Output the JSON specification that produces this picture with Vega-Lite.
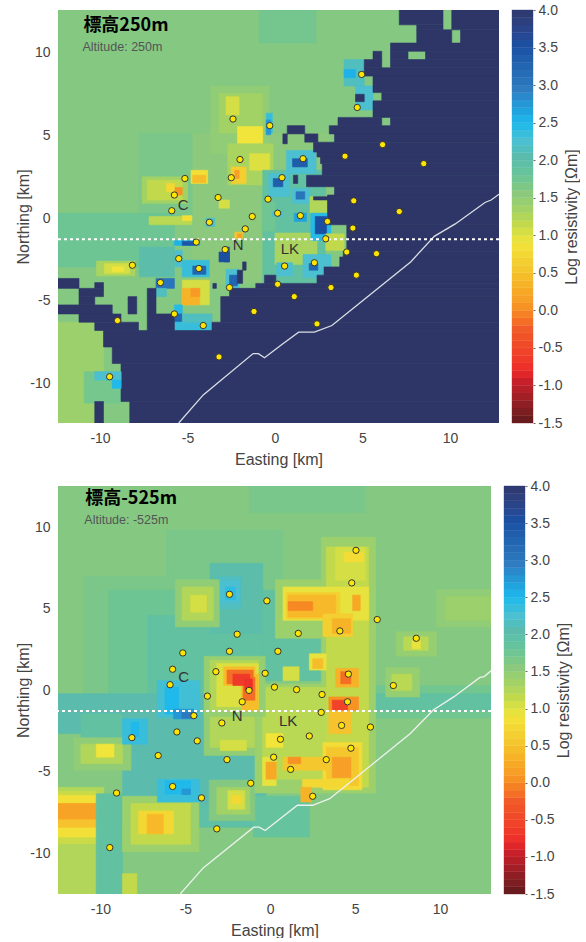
{"$schema":"https://vega.github.io/schema/vega-lite/v6.json","padding":{"left":15,"top":3,"right":0,"bottom":0},"background":"white","spacing":12,
"config":{"view":{"stroke":null},"font":"Liberation Sans","axis":{"grid":false,"domain":false,"ticks":false,"labelFontSize":14,"labelColor":"#444","titleFontSize":16,"titleFontWeight":"normal","titleColor":"#444","labelPadding":8,"labelExpr":"replace(datum.label,'−','-')"},"text":{"font":"Liberation Sans"}},
"datasets":{
"bar":[{"a":-1.5,"b":-1.4},{"a":-1.4,"b":-1.3},{"a":-1.3,"b":-1.2},{"a":-1.2,"b":-1.1},{"a":-1.1,"b":-1.0},{"a":-1.0,"b":-0.9},{"a":-0.9,"b":-0.8},{"a":-0.8,"b":-0.7},{"a":-0.7,"b":-0.6},{"a":-0.6,"b":-0.5},{"a":-0.5,"b":-0.4},{"a":-0.4,"b":-0.3},{"a":-0.3,"b":-0.2},{"a":-0.2,"b":-0.1},{"a":-0.1,"b":0.0},{"a":0.0,"b":0.1},{"a":0.1,"b":0.2},{"a":0.2,"b":0.3},{"a":0.3,"b":0.4},{"a":0.4,"b":0.5},{"a":0.5,"b":0.6},{"a":0.6,"b":0.7},{"a":0.7,"b":0.8},{"a":0.8,"b":0.9},{"a":0.9,"b":1.0},{"a":1.0,"b":1.1},{"a":1.1,"b":1.2},{"a":1.2,"b":1.3},{"a":1.3,"b":1.4},{"a":1.4,"b":1.5},{"a":1.5,"b":1.6},{"a":1.6,"b":1.7},{"a":1.7,"b":1.8},{"a":1.8,"b":1.9},{"a":1.9,"b":2.0},{"a":2.0,"b":2.1},{"a":2.1,"b":2.2},{"a":2.2,"b":2.3},{"a":2.3,"b":2.4},{"a":2.4,"b":2.5},{"a":2.5,"b":2.6},{"a":2.6,"b":2.7},{"a":2.7,"b":2.8},{"a":2.8,"b":2.9},{"a":2.9,"b":3.0},{"a":3.0,"b":3.1},{"a":3.1,"b":3.2},{"a":3.2,"b":3.3},{"a":3.3,"b":3.4},{"a":3.4,"b":3.5},{"a":3.5,"b":3.6},{"a":3.6,"b":3.7},{"a":3.7,"b":3.8},{"a":3.8,"b":3.9},{"a":3.9,"b":4.0}],
"t":[
{"x0":-12.4,"x1":12.8,"y0":-12.4,"y1":12.6,"v":1.55},
{"x0":-0.9,"x1":2.35,"y0":10.6,"y1":12.6,"v":1.66},
{"x0":-12.4,"x1":-9.8,"y0":-12.4,"y1":-6.3,"v":1.35},
{"x0":-10.9,"x1":-8.8,"y0":-11.2,"y1":-9.3,"v":1.65},
{"x0":-7.75,"x1":-4.3,"y0":-0.4,"y1":5.15,"v":1.62},
{"x0":-12.4,"x1":-5.75,"y0":-2.95,"y1":0.3,"v":1.72},
{"x0":-4.7,"x1":3.2,"y0":-3.95,"y1":5.15,"v":1.5},
{"x0":-3.7,"x1":-0.3,"y0":3.9,"y1":8.0,"v":1.45},
{"x0":-3.2,"x1":-0.7,"y0":5.15,"y1":7.55,"v":1.3},
{"x0":-2.8,"x1":-2.05,"y0":6.25,"y1":7.35,"v":1.0},
{"x0":-2.15,"x1":-0.7,"y0":4.5,"y1":5.55,"v":0.85},
{"x0":-2.7,"x1":-0.1,"y0":2.0,"y1":4.5,"v":1.25},
{"x0":-1.45,"x1":-0.3,"y0":2.9,"y1":3.9,"v":0.95},
{"x0":-2.5,"x1":-1.65,"y0":2.1,"y1":3.1,"v":0.6},
{"x0":-2.3,"x1":-2.05,"y0":2.4,"y1":2.9,"v":0.1},
{"x0":-0.5,"x1":-0.15,"y0":5.15,"y1":6.35,"v":2.3},
{"x0":-0.5,"x1":-0.25,"y0":5.05,"y1":5.95,"v":2.7},
{"x0":3.95,"x1":5.1,"y0":8.0,"y1":9.6,"v":2.1},
{"x0":3.95,"x1":4.6,"y0":8.5,"y1":9.0,"v":2.5},
{"x0":4.6,"x1":5.6,"y0":6.55,"y1":8.0,"v":2.2},
{"x0":4.6,"x1":5.1,"y0":7.05,"y1":7.5,"v":4},
{"x0":-7.6,"x1":-5.0,"y0":0.9,"y1":2.5,"v":1.3},
{"x0":-7.3,"x1":-5.3,"y0":1.1,"y1":2.3,"v":1.1},
{"x0":-4.8,"x1":-3.85,"y0":2.1,"y1":2.9,"v":0.8},
{"x0":-4.7,"x1":-3.95,"y0":2.15,"y1":2.6,"v":0.4},
{"x0":-5.75,"x1":-5.3,"y0":1.4,"y1":1.85,"v":0.0},
{"x0":-6.2,"x1":-5.75,"y0":1.6,"y1":2.1,"v":0.7},
{"x0":-7.2,"x1":-4.75,"y0":-0.4,"y1":0.1,"v":1.15},
{"x0":-5.3,"x1":-4.75,"y0":-0.15,"y1":0.15,"v":0.8},
{"x0":-3.2,"x1":-2.6,"y0":0.6,"y1":1.1,"v":1.0},
{"x0":-3.95,"x1":-3.45,"y0":-0.5,"y1":0.0,"v":2.2},
{"x0":-2.3,"x1":-1.85,"y0":-1.25,"y1":-0.85,"v":0.5},
{"x0":-2.15,"x1":-1.9,"y0":-1.2,"y1":-0.95,"v":0.1},
{"x0":-5.75,"x1":-4.3,"y0":-1.65,"y1":-1.35,"v":2.5},
{"x0":-5.3,"x1":-4.5,"y0":-1.65,"y1":-1.4,"v":3.4},
{"x0":-6.2,"x1":-5.3,"y0":-2.95,"y1":-1.95,"v":2.2},
{"x0":-7.75,"x1":-5.75,"y0":-3.55,"y1":-1.75,"v":1.95},
{"x0":-5.3,"x1":-3.75,"y0":-3.55,"y1":-2.55,"v":2.3},
{"x0":-4.7,"x1":-3.95,"y0":-3.4,"y1":-2.9,"v":3.2},
{"x0":-2.9,"x1":-2.6,"y0":-2.65,"y1":-1.75,"v":3.3},
{"x0":-3.2,"x1":-2.6,"y0":-2.65,"y1":-2.05,"v":3.5},
{"x0":-10.2,"x1":-8.0,"y0":-3.5,"y1":-2.6,"v":1.25},
{"x0":-9.75,"x1":-8.3,"y0":-3.35,"y1":-2.75,"v":1.0},
{"x0":-9.3,"x1":-8.65,"y0":-3.25,"y1":-2.95,"v":0.85},
{"x0":-6.8,"x1":-5.75,"y0":-4.25,"y1":-3.65,"v":3.0},
{"x0":-6.8,"x1":-6.2,"y0":-4.75,"y1":-4.25,"v":2.1},
{"x0":-5.3,"x1":-3.75,"y0":-5.25,"y1":-3.75,"v":1.0},
{"x0":-5.3,"x1":-4.3,"y0":-5.25,"y1":-4.25,"v":0.3},
{"x0":-4.8,"x1":-4.3,"y0":-4.75,"y1":-4.25,"v":0.05},
{"x0":-5.75,"x1":-3.6,"y0":-6.8,"y1":-6.3,"v":2.3},
{"x0":-5.75,"x1":-5.3,"y0":-6.3,"y1":-5.25,"v":2.4},
{"x0":-5.75,"x1":-5.3,"y0":-6.25,"y1":-5.8,"v":3.2},
{"x0":-5.3,"x1":-3.6,"y0":-6.3,"y1":-5.8,"v":2.1},
{"x0":-2.8,"x1":-2.05,"y0":-4.25,"y1":-3.1,"v":2.2},
{"x0":-2.6,"x1":-2.15,"y0":-4.1,"y1":-3.45,"v":3.2},
{"x0":-2.15,"x1":-1.85,"y0":-3.95,"y1":-3.15,"v":4},
{"x0":-1.85,"x1":-1.65,"y0":-3.15,"y1":-2.65,"v":4},
{"x0":-3.55,"x1":-3.35,"y0":-4.25,"y1":-3.95,"v":4},
{"x0":-0.7,"x1":2.9,"y0":-3.95,"y1":2.9,"v":1.85},
{"x0":-0.7,"x1":0.0,"y0":-0.8,"y1":1.0,"v":1.7},
{"x0":0.0,"x1":2.4,"y0":-2.8,"y1":-0.9,"v":1.25},
{"x0":1.6,"x1":3.2,"y0":-3.6,"y1":-2.2,"v":2.2},
{"x0":0.1,"x1":1.0,"y0":-3.5,"y1":-2.7,"v":2.2},
{"x0":0.65,"x1":2.35,"y0":2.7,"y1":4.1,"v":2.2},
{"x0":1.0,"x1":1.85,"y0":3.1,"y1":3.6,"v":3.3},
{"x0":-0.35,"x1":0.85,"y0":1.3,"y1":2.7,"v":2.2},
{"x0":-0.1,"x1":0.45,"y0":1.9,"y1":2.4,"v":3.3},
{"x0":1.05,"x1":1.3,"y0":2.1,"y1":2.6,"v":4},
{"x0":1.0,"x1":2.0,"y0":0.9,"y1":1.8,"v":2.2},
{"x0":1.2,"x1":1.7,"y0":1.15,"y1":1.6,"v":3.0},
{"x0":2.0,"x1":3.0,"y0":0.3,"y1":1.3,"v":1.2},
{"x0":1.1,"x1":1.8,"y0":-0.2,"y1":0.3,"v":2.6},
{"x0":-0.15,"x1":0.45,"y0":0.1,"y1":0.4,"v":2.2},
{"x0":2.05,"x1":3.2,"y0":-1.35,"y1":0.3,"v":2.4},
{"x0":2.3,"x1":2.95,"y0":-0.95,"y1":0.1,"v":3.5},
{"x0":2.9,"x1":3.95,"y0":-1.95,"y1":-0.95,"v":1.1},
{"x0":1.95,"x1":2.45,"y0":-3.15,"y1":-2.75,"v":3.2},
{"x0":7.1,"x1":9.6,"y0":11.7,"y1":12.7,"v":4},{"x0":10.1,"x1":12.8,"y0":11.4,"y1":12.7,"v":4},
{"x0":8.1,"x1":9.6,"y0":11.4,"y1":11.7,"v":4},
{"x0":8.1,"x1":10.1,"y0":10.6,"y1":11.4,"v":4},{"x0":10.6,"x1":12.8,"y0":10.6,"y1":11.4,"v":4},
{"x0":6.6,"x1":12.8,"y0":10.1,"y1":10.6,"v":4},
{"x0":5.6,"x1":6.1,"y0":9.6,"y1":10.1,"v":4},{"x0":6.6,"x1":7.6,"y0":9.6,"y1":10.1,"v":4},{"x0":8.6,"x1":12.8,"y0":9.6,"y1":10.1,"v":4},
{"x0":5.1,"x1":6.1,"y0":9.1,"y1":9.6,"v":4},{"x0":6.6,"x1":12.8,"y0":9.1,"y1":9.6,"v":4},
{"x0":5.1,"x1":12.8,"y0":8.6,"y1":9.1,"v":4},
{"x0":5.6,"x1":12.8,"y0":7.6,"y1":8.6,"v":4},
{"x0":6.1,"x1":12.8,"y0":7.1,"y1":7.6,"v":4},
{"x0":5.6,"x1":12.8,"y0":6.1,"y1":7.1,"v":4},
{"x0":3.6,"x1":6.1,"y0":5.6,"y1":6.1,"v":4},{"x0":6.6,"x1":12.8,"y0":5.6,"y1":6.1,"v":4},
{"x0":3.1,"x1":12.8,"y0":5.1,"y1":5.6,"v":4},{"x0":0.7,"x1":1.7,"y0":5.1,"y1":5.6,"v":4},
{"x0":3.4,"x1":12.8,"y0":4.6,"y1":5.1,"v":4},{"x0":0.45,"x1":0.7,"y0":4.5,"y1":5.1,"v":4},{"x0":1.7,"x1":2.45,"y0":4.6,"y1":5.1,"v":4},
{"x0":2.2,"x1":12.8,"y0":4.0,"y1":4.6,"v":4},
{"x0":2.4,"x1":12.8,"y0":3.7,"y1":4.0,"v":4},
{"x0":2.6,"x1":12.8,"y0":3.3,"y1":3.7,"v":4},
{"x0":2.7,"x1":12.8,"y0":2.6,"y1":3.3,"v":4},
{"x0":1.8,"x1":12.8,"y0":1.9,"y1":2.6,"v":4},
{"x0":3.4,"x1":12.8,"y0":1.4,"y1":1.9,"v":4},
{"x0":3.0,"x1":12.8,"y0":-0.4,"y1":1.4,"v":4},
{"x0":2.2,"x1":3.2,"y0":1.1,"y1":1.3,"v":4},
{"x0":4.1,"x1":12.8,"y0":-2.0,"y1":-0.4,"v":4},
{"x0":3.9,"x1":12.8,"y0":-2.35,"y1":-2.0,"v":4},
{"x0":3.7,"x1":12.8,"y0":-2.95,"y1":-2.35,"v":4},
{"x0":2.8,"x1":12.8,"y0":-3.45,"y1":-2.95,"v":4},
{"x0":2.4,"x1":12.8,"y0":-3.95,"y1":-3.45,"v":4},
{"x0":-0.6,"x1":0.05,"y0":-3.95,"y1":-3.45,"v":4},
{"x0":-1.1,"x1":12.8,"y0":-4.25,"y1":-3.95,"v":4},
{"x0":-2.6,"x1":12.8,"y0":-4.75,"y1":-4.25,"v":4},
{"x0":-3.1,"x1":12.8,"y0":-6.3,"y1":-4.75,"v":4},
{"x0":-3.6,"x1":12.8,"y0":-6.8,"y1":-6.3,"v":4},
{"x0":-9.8,"x1":12.8,"y0":-7.8,"y1":-6.8,"v":4},
{"x0":-9.3,"x1":12.8,"y0":-8.8,"y1":-7.8,"v":4},
{"x0":-8.8,"x1":12.8,"y0":-11.1,"y1":-8.8,"v":4},
{"x0":-8.3,"x1":12.8,"y0":-12.4,"y1":-11.1,"v":4},
{"x0":-10.3,"x1":-9.8,"y0":-12.4,"y1":-11.1,"v":4},
{"x0":-12.4,"x1":-11.2,"y0":-4.25,"y1":-3.65,"v":4},
{"x0":-10.3,"x1":-9.8,"y0":-4.25,"y1":-3.9,"v":4},
{"x0":-11.2,"x1":-9.8,"y0":-4.75,"y1":-4.25,"v":4},
{"x0":-11.2,"x1":-10.3,"y0":-5.25,"y1":-4.75,"v":4},
{"x0":-12.4,"x1":-9.3,"y0":-5.8,"y1":-5.25,"v":4},
{"x0":-11.2,"x1":-8.8,"y0":-6.3,"y1":-5.8,"v":4},
{"x0":-10.3,"x1":-7.8,"y0":-6.8,"y1":-6.3,"v":4},
{"x0":-8.4,"x1":-7.9,"y0":-5.8,"y1":-4.75,"v":4},
{"x0":-7.3,"x1":-6.8,"y0":-5.8,"y1":-4.25,"v":4},
{"x0":-7.3,"x1":-5.75,"y0":-6.8,"y1":-5.8,"v":4},
{"x0":-10.3,"x1":-8.8,"y0":-10.3,"y1":-9.3,"v":1.65},
{"x0":-10.3,"x1":-8.8,"y0":-9.8,"y1":-9.3,"v":2.2},
{"x0":-9.3,"x1":-8.8,"y0":-10.3,"y1":-9.8,"v":2.45}
],
"b":[
{"x0":-12.5,"x1":13,"y0":-12.5,"y1":12.55,"v":1.55},
{"x0":-1.2,"x1":5.6,"y0":10.9,"y1":12.55,"v":1.63},
{"x0":9.8,"x1":13,"y0":3.9,"y1":6.2,"v":1.45},
{"x0":10.3,"x1":13,"y0":4.3,"y1":5.75,"v":1.35},
{"x0":-6.1,"x1":0.75,"y0":6.15,"y1":9.85,"v":1.62},
{"x0":-11,"x1":0.0,"y0":-0.4,"y1":7,"v":1.62},
{"x0":-9.5,"x1":-0.45,"y0":-0.2,"y1":6.15,"v":1.72},
{"x0":-7.2,"x1":-0.45,"y0":-0.2,"y1":4.6,"v":1.85},
{"x0":-3.55,"x1":-0.45,"y0":3.5,"y1":7.8,"v":1.95},
{"x0":-3.1,"x1":-1.7,"y0":5.0,"y1":7.0,"v":2.1},
{"x0":-2.95,"x1":-1.8,"y0":5.35,"y1":6.75,"v":2.2},
{"x0":-2.65,"x1":-2.05,"y0":5.55,"y1":6.35,"v":2.35},
{"x0":-0.45,"x1":3.3,"y0":0.6,"y1":6.15,"v":1.85},
{"x0":-12.5,"x1":-3.55,"y0":-2.65,"y1":-0.2,"v":2.0},
{"x0":5.8,"x1":13,"y0":-1.7,"y1":0.3,"v":1.68},
{"x0":5.8,"x1":13,"y0":-1.25,"y1":-0.2,"v":1.85},
{"x0":-11.15,"x1":-8.7,"y0":-3.1,"y1":-1.45,"v":1.85},
{"x0":-8.7,"x1":-0.25,"y0":-7.6,"y1":-1.45,"v":2.0},
{"x0":-9,"x1":0.75,"y0":-8.4,"y1":-7.0,"v":1.9},
{"x0":-1,"x1":2.3,"y0":-9,"y1":-6.5,"v":1.8},
{"x0":-12.5,"x1":-9.8,"y0":-12.5,"y1":-5.95,"v":1.2},
{"x0":-12.5,"x1":-10.25,"y0":-9.4,"y1":-6.2,"v":1.05},
{"x0":-12.5,"x1":-10.25,"y0":-9,"y1":-6.45,"v":0.8},
{"x0":-12.5,"x1":-10.25,"y0":-8.4,"y1":-6.95,"v":0.45},
{"x0":-12.5,"x1":-10.25,"y0":-7.9,"y1":-6.95,"v":0.15},
{"x0":-10.25,"x1":-8.7,"y0":-12.5,"y1":-6.35,"v":1.85},
{"x0":-8.7,"x1":-7.85,"y0":-12.5,"y1":-11.25,"v":1.1},
{"x0":-8.7,"x1":-4.2,"y0":-9.9,"y1":-6.5,"v":1.35},
{"x0":-8.2,"x1":-4.7,"y0":-9.45,"y1":-6.95,"v":1.1},
{"x0":-7.75,"x1":-5.7,"y0":-8.8,"y1":-7.4,"v":0.7},
{"x0":-7.25,"x1":-6.3,"y0":-8.8,"y1":-7.6,"v":0.35},
{"x0":-11.6,"x1":-8.2,"y0":-4.9,"y1":-2.9,"v":1.45},
{"x0":-11.15,"x1":-8.7,"y0":-4.5,"y1":-3.3,"v":1.2},
{"x0":-10.25,"x1":-9.2,"y0":-4.1,"y1":-3.3,"v":0.85},
{"x0":-5.6,"x1":-3,"y0":3.9,"y1":6.8,"v":1.45},
{"x0":-5.2,"x1":-3.35,"y0":4.3,"y1":6.35,"v":1.2},
{"x0":-4.7,"x1":-3.75,"y0":4.8,"y1":5.85,"v":1.0},
{"x0":-6.65,"x1":-4.15,"y0":-1.65,"y1":0.6,"v":2.25},
{"x0":-6.2,"x1":-5.4,"y0":-1.45,"y1":0.2,"v":2.45},
{"x0":-5.7,"x1":-4.5,"y0":-1.75,"y1":-1.15,"v":2.7},
{"x0":-5.2,"x1":-4.6,"y0":-1.7,"y1":-1.35,"v":2.95},
{"x0":-8.7,"x1":-7.25,"y0":-3.3,"y1":-1.75,"v":2.3},
{"x0":-8.2,"x1":-7.75,"y0":-2.85,"y1":-1.95,"v":2.45},
{"x0":-6.65,"x1":-4.15,"y0":-6.85,"y1":-5.45,"v":2.3},
{"x0":-6.2,"x1":-4.7,"y0":-6.35,"y1":-5.55,"v":2.45},
{"x0":-5.2,"x1":-4.7,"y0":-6.4,"y1":-6.05,"v":2.7},
{"x0":-3.9,"x1":-0.05,"y0":-4.0,"y1":-1.2,"v":1.45},
{"x0":-3.55,"x1":-0.05,"y0":-3.5,"y1":-1.45,"v":1.2},
{"x0":-2.95,"x1":-1.4,"y0":-3.7,"y1":-3.05,"v":1.0},
{"x0":-3.6,"x1":-0.9,"y0":-8,"y1":-5.5,"v":1.55},
{"x0":-3.15,"x1":-1.2,"y0":-7.6,"y1":-5.95,"v":1.3},
{"x0":-2.5,"x1":-1.5,"y0":-7.3,"y1":-6.15,"v":1.0},
{"x0":-2.3,"x1":-1.7,"y0":-6.95,"y1":-6.45,"v":0.7},
{"x0":-0.9,"x1":6.2,"y0":-6.3,"y1":0.4,"v":1.35},
{"x0":0.3,"x1":6.2,"y0":3.2,"y1":6.8,"v":1.35},
{"x0":3.0,"x1":6.2,"y0":0.4,"y1":9.4,"v":1.35},
{"x0":-0.45,"x1":3.3,"y0":-5.45,"y1":0.2,"v":1.15},
{"x0":0.75,"x1":1.7,"y0":0.6,"y1":1.45,"v":1.0},
{"x0":-0.25,"x1":0.75,"y0":-3.5,"y1":-2.65,"v":0.85},
{"x0":3.3,"x1":5.8,"y0":-5.95,"y1":8.8,"v":1.1},
{"x0":3.85,"x1":5.6,"y0":6.75,"y1":8.8,"v":1.0},
{"x0":4.35,"x1":5.5,"y0":7.9,"y1":8.5,"v":0.75},
{"x0":0.75,"x1":5.8,"y0":4.3,"y1":6.35,"v":0.9},
{"x0":0.95,"x1":4.1,"y0":4.4,"y1":6.0,"v":0.6},
{"x0":1.05,"x1":3.85,"y0":4.5,"y1":5.85,"v":0.35},
{"x0":1.05,"x1":2.5,"y0":4.9,"y1":5.45,"v":-0.05},
{"x0":4.85,"x1":5.3,"y0":4.9,"y1":5.85,"v":0.2},
{"x0":3.1,"x1":4.85,"y0":3.3,"y1":4.7,"v":0.6},
{"x0":3.65,"x1":4.75,"y0":3.5,"y1":4.4,"v":0.3},
{"x0":2.3,"x1":3.3,"y0":1.25,"y1":2.25,"v":0.9},
{"x0":2.5,"x1":3.1,"y0":1.35,"y1":1.95,"v":0.4},
{"x0":3.85,"x1":5.2,"y0":0.2,"y1":1.35,"v":0.3},
{"x0":4.15,"x1":4.75,"y0":0.4,"y1":1.15,"v":-0.2},
{"x0":3.45,"x1":5.2,"y0":-1.25,"y1":-0.4,"v":0.0},
{"x0":3.65,"x1":4.55,"y0":-1.25,"y1":-0.6,"v":-0.6},
{"x0":3.45,"x1":4.75,"y0":-2.65,"y1":-1.25,"v":0.45},
{"x0":3.1,"x1":5.4,"y0":-6.1,"y1":-3.2,"v":0.75},
{"x0":3.3,"x1":5.2,"y0":-5.85,"y1":-3.5,"v":0.5},
{"x0":3.65,"x1":4.75,"y0":-5.35,"y1":-4.1,"v":0.1},
{"x0":1.9,"x1":4.65,"y0":-5.95,"y1":-5.45,"v":0.7},
{"x0":1.8,"x1":2.4,"y0":-6.85,"y1":-5.95,"v":0.3},
{"x0":0.75,"x1":3.3,"y0":-4.9,"y1":-4.1,"v":0.5},
{"x0":1.05,"x1":1.8,"y0":-4.5,"y1":-4.1,"v":0.0},
{"x0":-0.45,"x1":0.35,"y0":-5.85,"y1":-4.1,"v":0.9},
{"x0":-0.25,"x1":0.35,"y0":-5.45,"y1":-4.4,"v":0.2},
{"x0":7.4,"x1":9.8,"y0":2.1,"y1":3.6,"v":1.4},
{"x0":7.85,"x1":9.3,"y0":2.45,"y1":3.3,"v":1.15},
{"x0":8.35,"x1":8.85,"y0":2.55,"y1":3.05,"v":0.9},
{"x0":6.8,"x1":8.8,"y0":-0.4,"y1":1.4,"v":1.4},
{"x0":7.15,"x1":8.35,"y0":0,"y1":1,"v":1.15},
{"x0":-3.9,"x1":-0.3,"y0":-1.6,"y1":2.1,"v":1.4},
{"x0":-3.55,"x1":-0.7,"y0":-1.25,"y1":1.85,"v":1.2},
{"x0":-3.15,"x1":-0.7,"y0":-1.0,"y1":1.65,"v":0.95},
{"x0":-2.75,"x1":-0.9,"y0":0.3,"y1":1.45,"v":0.4},
{"x0":-1.7,"x1":-0.7,"y0":-1.25,"y1":1.0,"v":0.4},
{"x0":-2.55,"x1":-1.0,"y0":0.4,"y1":1.25,"v":-0.2},
{"x0":-1.6,"x1":-0.9,"y0":-0.6,"y1":0.8,"v":-0.2},
{"x0":-2.2,"x1":-1.2,"y0":0.3,"y1":1.0,"v":-0.7},
{"x0":-1.5,"x1":-1.05,"y0":0.0,"y1":0.7,"v":-0.8}
],
"sT":[{"x":4.95,"y":8.7},{"x":4.7,"y":6.7},{"x":-2.4,"y":6.0},{"x":-0.3,"y":5.6},{"x":6.15,"y":4.45},{"x":4.0,"y":3.75},{"x":8.5,"y":3.3},{"x":1.6,"y":3.6},{"x":-2.0,"y":3.55},{"x":0.4,"y":2.45},{"x":-2.5,"y":2.45},{"x":-5.15,"y":2.4},{"x":-5.75,"y":1.4},{"x":-3.25,"y":1.25},{"x":-0.4,"y":1.15},{"x":4.5,"y":1.05},{"x":-5.9,"y":0.45},{"x":7.1,"y":0.4},{"x":0.15,"y":0.3},{"x":1.45,"y":0.15},{"x":-1.3,"y":0.1},{"x":3.0,"y":-0.2},{"x":-3.75,"y":-0.25},{"x":-1.7,"y":-0.65},{"x":4.45,"y":-0.6},{"x":2.9,"y":-1.25},{"x":-4.5,"y":-1.45},{"x":-2.85,"y":-1.9},{"x":4.1,"y":-2.05},{"x":5.8,"y":-2.15},{"x":-5.5,"y":-2.45},{"x":-8.15,"y":-2.85},{"x":-4.35,"y":-3.05},{"x":0.55,"y":-2.9},{"x":2.25,"y":-2.7},{"x":4.65,"y":-3.45},{"x":-6.55,"y":-3.9},{"x":0.15,"y":-4.0},{"x":-2.6,"y":-4.2},{"x":3.2,"y":-4.2},{"x":1.1,"y":-4.75},{"x":-1.2,"y":-5.65},{"x":-5.75,"y":-5.8},{"x":-9.0,"y":-6.2},{"x":-4.1,"y":-6.5},{"x":2.4,"y":-6.4},{"x":-3.2,"y":-8.4},{"x":-9.45,"y":-9.6}],
"sB":[{"x":5.05,"y":8.6},{"x":4.8,"y":6.6},{"x":-2.4,"y":5.9},{"x":-0.2,"y":5.5},{"x":6.3,"y":4.35},{"x":4.1,"y":3.65},{"x":8.6,"y":3.2},{"x":1.65,"y":3.5},{"x":-1.95,"y":3.45},{"x":0.45,"y":2.4},{"x":-2.4,"y":2.4},{"x":-5.15,"y":2.3},{"x":-5.75,"y":1.3},{"x":-3.2,"y":1.15},{"x":-0.3,"y":1.05},{"x":4.6,"y":1.0},{"x":-5.9,"y":0.35},{"x":7.25,"y":0.3},{"x":0.25,"y":0.2},{"x":1.55,"y":0.05},{"x":-1.25,"y":0},{"x":3.05,"y":-0.25},{"x":-3.7,"y":-0.35},{"x":-1.65,"y":-0.7},{"x":4.55,"y":-0.7},{"x":3.0,"y":-1.35},{"x":-4.5,"y":-1.55},{"x":-2.85,"y":-2.0},{"x":4.2,"y":-2.15},{"x":5.9,"y":-2.25},{"x":-5.5,"y":-2.55},{"x":-8.15,"y":-2.9},{"x":-4.3,"y":-3.1},{"x":0.6,"y":-3.0},{"x":2.3,"y":-2.8},{"x":4.75,"y":-3.55},{"x":-6.6,"y":-4.0},{"x":0.2,"y":-4.1},{"x":-2.55,"y":-4.25},{"x":3.3,"y":-4.25},{"x":1.2,"y":-4.85},{"x":-1.15,"y":-5.7},{"x":-5.75,"y":-5.9},{"x":-9.05,"y":-6.3},{"x":-4.05,"y":-6.6},{"x":2.5,"y":-6.5},{"x":-3.15,"y":-8.5},{"x":-9.45,"y":-9.65}],
"cT":[{"x":-5.5,"y":-12.4},{"x":-4.1,"y":-10.7},{"x":-1.25,"y":-8.2},{"x":-0.95,"y":-8.2},{"x":-0.6,"y":-8.45},{"x":0.45,"y":-7.6},{"x":1.35,"y":-6.9},{"x":2.25,"y":-6.9},{"x":3.25,"y":-6.5},{"x":4.65,"y":-5.3},{"x":7.75,"y":-2.65},{"x":9.1,"y":-1.1},{"x":10.3,"y":-0.35},{"x":12.0,"y":0.95},{"x":12.35,"y":1.1},{"x":12.8,"y":1.45}],
"cB":[{"x":-5.3,"y":-12.5},{"x":-3.95,"y":-10.9},{"x":-0.97,"y":-8.4},{"x":-0.66,"y":-8.4},{"x":-0.3,"y":-8.6},{"x":1.6,"y":-7.05},{"x":2.5,"y":-7.05},{"x":3.5,"y":-6.65},{"x":8.25,"y":-2.65},{"x":9.6,"y":-1.2},{"x":10.8,"y":-0.4},{"x":12.35,"y":0.8},{"x":12.6,"y":0.85},{"x":13,"y":1.2}],
"dot":[{"y":-1.27}],
"lT":[{"x":-5.25,"y":0.8,"s":"C"},{"x":-2.1,"y":-1.6,"s":"N"},{"x":0.85,"y":-1.85,"s":"LK"}],
"lB":[{"x":-5.1,"y":0.8,"s":"C"},{"x":-1.95,"y":-1.6,"s":"N"},{"x":1.05,"y":-1.85,"s":"LK"}],
"hT":[{"x":-10.95,"y":11.65,"s":"標高250m"}],"aT":[{"x":-11,"y":10.35,"s":"Altitude: 250m"}],
"hB":[{"x":-10.9,"y":11.75,"s":"標高-525m"}],"aB":[{"x":-10.95,"y":10.45,"s":"Altitude: -525m"}]
},
"vconcat":[
{"hconcat":[
{"width":441,"height":413,"layer":[
{"data":{"name":"t"},"mark":{"type":"rect","clip":true,"strokeWidth":0.6},"encoding":{
"x":{"field":"x0","type":"quantitative","scale":{"domain":[-12.4,12.8],"nice":false,"zero":false},"axis":{"values":[-10,-5,0,5,10],"title":"Easting [km]","titlePadding":6}},
"x2":{"field":"x1"},
"y":{"field":"y0","type":"quantitative","scale":{"domain":[-12.4,12.6],"nice":false,"zero":false},"axis":{"values":[-10,-5,0,5,10],"title":"Northing [km]","titlePadding":-2}},
"y2":{"field":"y1"},
"color":{"field":"v","type":"quantitative","legend":null,"scale":{"domain":[-1.5,-1.0,-0.85,-0.3,0.05,0.5,0.85,1.1,1.5,2.0,2.2,2.45,2.9,3.5,4.0],"range":["#6a1b1e","#c8202a","#ee2a2a","#f15a29","#f79a26","#f5c72f","#f1e43a","#c2d94c","#8cc97c","#5bbcae","#4cc0d0","#1fb9ec","#2f7cc0","#1c4fa0","#2e3567"]}},
"stroke":{"field":"v","type":"quantitative","legend":null,"scale":{"domain":[-1.5,-1.0,-0.85,-0.3,0.05,0.5,0.85,1.1,1.5,2.0,2.2,2.45,2.9,3.5,4.0],"range":["#6a1b1e","#c8202a","#ee2a2a","#f15a29","#f79a26","#f5c72f","#f1e43a","#c2d94c","#8cc97c","#5bbcae","#4cc0d0","#1fb9ec","#2f7cc0","#1c4fa0","#2e3567"]}}}},
{"data":{"name":"cT"},"mark":{"type":"line","color":"#d9dfe3","strokeWidth":1.3,"clip":true},"encoding":{"x":{"field":"x","type":"quantitative"},"y":{"field":"y","type":"quantitative"},"order":{"field":"x"}}},
{"data":{"name":"dot"},"mark":{"type":"rule","color":"white","strokeWidth":2,"strokeDash":[3,3]},"encoding":{"y":{"field":"y","type":"quantitative"}}},
{"data":{"name":"sT"},"mark":{"type":"point","filled":true,"fill":"#ffe600","stroke":"#333","strokeWidth":1,"opacity":1,"size":40},"encoding":{"x":{"field":"x","type":"quantitative"},"y":{"field":"y","type":"quantitative"}}},
{"data":{"name":"lT"},"mark":{"type":"text","fontSize":15,"color":"#333"},"encoding":{"x":{"field":"x","type":"quantitative"},"y":{"field":"y","type":"quantitative"},"text":{"field":"s"}}},
{"data":{"name":"hT"},"mark":{"type":"text","align":"left","fontSize":18,"fontWeight":"bold","font":"Noto Sans CJK JP","color":"#000"},"encoding":{"x":{"field":"x","type":"quantitative"},"y":{"field":"y","type":"quantitative"},"text":{"field":"s"}}},
{"data":{"name":"aT"},"mark":{"type":"text","align":"left","fontSize":12.5,"color":"#555"},"encoding":{"x":{"field":"x","type":"quantitative"},"y":{"field":"y","type":"quantitative"},"text":{"field":"s"}}}
]},
{"width":21,"height":413,"data":{"name":"bar"},"mark":{"type":"rect","strokeWidth":0.4},"encoding":{
"y":{"field":"a","type":"quantitative","scale":{"domain":[-1.5,4],"nice":false,"zero":false},"axis":{"orient":"right","values":[-1.5,-1,-0.5,0,0.5,1,1.5,2,2.5,3,3.5,4],"format":".1f","ticks":true,"tickSize":2,"tickColor":"#666","labelPadding":3,"title":"Log resistivity [Ωm]","titleAngle":270,"titlePadding":17}},
"y2":{"field":"b"},
"color":{"field":"a","type":"quantitative","legend":null,"scale":{"domain":[-1.5,-1.0,-0.85,-0.3,0.05,0.5,0.85,1.1,1.5,2.0,2.2,2.45,2.9,3.5,4.0],"range":["#6a1b1e","#c8202a","#ee2a2a","#f15a29","#f79a26","#f5c72f","#f1e43a","#c2d94c","#8cc97c","#5bbcae","#4cc0d0","#1fb9ec","#2f7cc0","#1c4fa0","#2e3567"]}},
"stroke":{"field":"a","type":"quantitative","legend":null,"scale":{"domain":[-1.5,-1.0,-0.85,-0.3,0.05,0.5,0.85,1.1,1.5,2.0,2.2,2.45,2.9,3.5,4.0],"range":["#6a1b1e","#c8202a","#ee2a2a","#f15a29","#f79a26","#f5c72f","#f1e43a","#c2d94c","#8cc97c","#5bbcae","#4cc0d0","#1fb9ec","#2f7cc0","#1c4fa0","#2e3567"]}}}}
],"spacing":11},
{"hconcat":[
{"width":433,"height":408,"layer":[
{"data":{"name":"b"},"mark":{"type":"rect","clip":true,"strokeWidth":0.6},"encoding":{
"x":{"field":"x0","type":"quantitative","scale":{"domain":[-12.5,13],"nice":false,"zero":false},"axis":{"values":[-10,-5,0,5,10],"title":"Easting [km]","titlePadding":6}},
"x2":{"field":"x1"},
"y":{"field":"y0","type":"quantitative","scale":{"domain":[-12.5,12.55],"nice":false,"zero":false},"axis":{"values":[-10,-5,0,5,10],"title":"Northing [km]","titlePadding":-2}},
"y2":{"field":"y1"},
"color":{"field":"v","type":"quantitative","legend":null,"scale":{"domain":[-1.5,-1.0,-0.85,-0.3,0.05,0.5,0.85,1.1,1.5,2.0,2.2,2.45,2.9,3.5,4.0],"range":["#6a1b1e","#c8202a","#ee2a2a","#f15a29","#f79a26","#f5c72f","#f1e43a","#c2d94c","#8cc97c","#5bbcae","#4cc0d0","#1fb9ec","#2f7cc0","#1c4fa0","#2e3567"]}},
"stroke":{"field":"v","type":"quantitative","legend":null,"scale":{"domain":[-1.5,-1.0,-0.85,-0.3,0.05,0.5,0.85,1.1,1.5,2.0,2.2,2.45,2.9,3.5,4.0],"range":["#6a1b1e","#c8202a","#ee2a2a","#f15a29","#f79a26","#f5c72f","#f1e43a","#c2d94c","#8cc97c","#5bbcae","#4cc0d0","#1fb9ec","#2f7cc0","#1c4fa0","#2e3567"]}}}},
{"data":{"name":"cB"},"mark":{"type":"line","color":"#eef2ee","strokeWidth":1.3,"clip":true},"encoding":{"x":{"field":"x","type":"quantitative"},"y":{"field":"y","type":"quantitative"},"order":{"field":"x"}}},
{"data":{"name":"dot"},"mark":{"type":"rule","color":"white","strokeWidth":2,"strokeDash":[3,3]},"encoding":{"y":{"field":"y","type":"quantitative"}}},
{"data":{"name":"sB"},"mark":{"type":"point","filled":true,"fill":"#ffe600","stroke":"#333","strokeWidth":1,"opacity":1,"size":40},"encoding":{"x":{"field":"x","type":"quantitative"},"y":{"field":"y","type":"quantitative"}}},
{"data":{"name":"lB"},"mark":{"type":"text","fontSize":15,"color":"#333"},"encoding":{"x":{"field":"x","type":"quantitative"},"y":{"field":"y","type":"quantitative"},"text":{"field":"s"}}},
{"data":{"name":"hB"},"mark":{"type":"text","align":"left","fontSize":18,"fontWeight":"bold","font":"Noto Sans CJK JP","color":"#000"},"encoding":{"x":{"field":"x","type":"quantitative"},"y":{"field":"y","type":"quantitative"},"text":{"field":"s"}}},
{"data":{"name":"aB"},"mark":{"type":"text","align":"left","fontSize":12.5,"color":"#555"},"encoding":{"x":{"field":"x","type":"quantitative"},"y":{"field":"y","type":"quantitative"},"text":{"field":"s"}}}
]},
{"width":21,"height":408,"data":{"name":"bar"},"mark":{"type":"rect","strokeWidth":0.4},"encoding":{
"y":{"field":"a","type":"quantitative","scale":{"domain":[-1.5,4],"nice":false,"zero":false},"axis":{"orient":"right","values":[-1.5,-1,-0.5,0,0.5,1,1.5,2,2.5,3,3.5,4],"format":".1f","ticks":true,"tickSize":2,"tickColor":"#666","labelPadding":3,"title":"Log resistivity [Ωm]","titleAngle":270,"titlePadding":17}},
"y2":{"field":"b"},
"color":{"field":"a","type":"quantitative","legend":null,"scale":{"domain":[-1.5,-1.0,-0.85,-0.3,0.05,0.5,0.85,1.1,1.5,2.0,2.2,2.45,2.9,3.5,4.0],"range":["#6a1b1e","#c8202a","#ee2a2a","#f15a29","#f79a26","#f5c72f","#f1e43a","#c2d94c","#8cc97c","#5bbcae","#4cc0d0","#1fb9ec","#2f7cc0","#1c4fa0","#2e3567"]}},
"stroke":{"field":"a","type":"quantitative","legend":null,"scale":{"domain":[-1.5,-1.0,-0.85,-0.3,0.05,0.5,0.85,1.1,1.5,2.0,2.2,2.45,2.9,3.5,4.0],"range":["#6a1b1e","#c8202a","#ee2a2a","#f15a29","#f79a26","#f5c72f","#f1e43a","#c2d94c","#8cc97c","#5bbcae","#4cc0d0","#1fb9ec","#2f7cc0","#1c4fa0","#2e3567"]}}}}
],"spacing":11}
]}
